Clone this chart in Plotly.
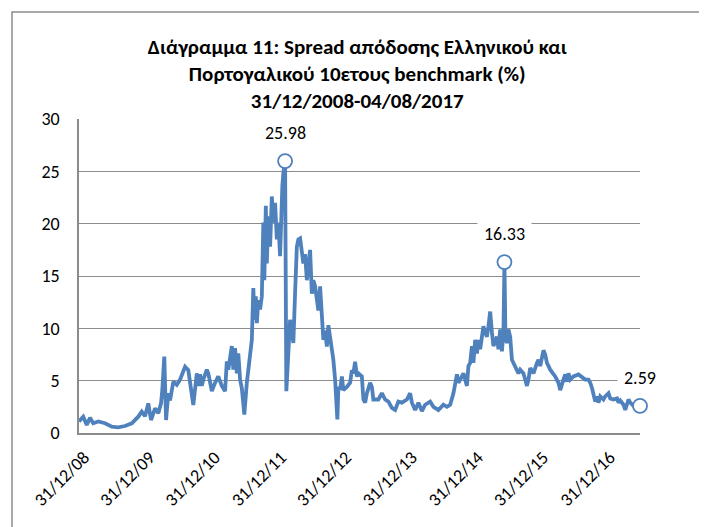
import plotly.graph_objects as go

# Observation number (trading-day index on the category axis) and spread (%)
obs = [0, 17, 31, 44, 57, 77, 104, 131, 157, 184, 211, 237, 251, 264, 277, 288, 304, 317, 328, 333,
       341, 348, 357, 364, 377, 391, 404, 424, 437, 451, 457,
       471, 477, 484, 491, 497, 511, 517, 531, 544, 557, 571, 584, 591, 597, 611, 617, 624, 631, 637, 644,
       651, 661, 671, 677, 684, 691, 697, 701, 707, 711, 717, 724, 731, 735, 737, 741, 747, 751, 757, 764,
       771, 777, 784, 791, 797, 804, 808, 813, 817, 821, 824, 829, 837, 844, 851, 857, 864, 871, 877, 884,
       897, 904, 911, 924, 931, 937, 944, 957, 964, 977, 984, 991, 997, 1004, 1011, 1017, 1024, 1031, 1033, 1037,
       1044, 1051, 1057, 1071, 1084, 1091, 1097, 1104, 1111, 1117, 1131, 1137, 1144, 1151, 1164, 1171, 1177, 1197,
       1211, 1224, 1237, 1251, 1264, 1277, 1291,
       1311, 1324, 1331, 1344, 1357, 1371, 1384, 1404, 1417, 1437, 1457, 1471, 1484, 1497, 1511, 1517, 1524, 1537,
       1551, 1557, 1564, 1571, 1577, 1584, 1591, 1597, 1604, 1617, 1624, 1631, 1637, 1644, 1651, 1657, 1671, 1677,
       1684, 1691, 1697, 1701, 1705, 1711, 1717, 1724, 1731, 1744, 1757,
       1764, 1777, 1791, 1797, 1804, 1817, 1831, 1837, 1844, 1851, 1857, 1864, 1871, 1884, 1897, 1904, 1917, 1924,
       1937, 1944, 1951, 1957, 1964, 1977, 1997, 2011, 2024, 2037, 2044, 2051, 2057, 2064, 2071, 2077, 2084, 2097,
       2104, 2117, 2124, 2137, 2151, 2157, 2164, 2177, 2184, 2191, 2197, 2204, 2217, 2243]

spread = [1.1, 1.56, 0.76, 1.45, 0.93, 1.1, 0.93, 0.6, 0.54, 0.67, 0.93, 1.56, 2.04, 1.6, 2.83, 1.24, 2.36, 1.9, 2.83, 4.1,
          7.3, 1.24, 3.8, 3.1, 4.9, 4.6, 5.1, 6.33, 6.0, 3.47, 2.67,
          5.7, 4.5, 5.6, 4.5, 5.1, 6.05, 5.7, 4.0, 4.8, 5.4, 4.5, 4.0, 6.85, 6.05, 8.3, 6.05, 8.1, 5.7, 7.6, 5.1,
          4.3, 1.75, 4.8, 6.05, 7.6, 8.9, 13.85, 10.8, 13.05, 10.5, 12.7, 11.8, 13.05, 18.5, 20.1, 14.6, 21.7, 16.2, 20.7, 17.8,
          22.6, 20.1, 22.0, 18.5, 20.1, 16.9, 21.7, 23.6, 24.8, 25.5, 25.98, 4.0, 8.3, 10.8, 9.9, 8.6, 13.4, 17.8, 18.5, 18.6,
          16.2, 17.1, 14.6, 17.5, 13.3, 14.6, 14.0, 11.7, 14.0, 8.9, 9.8, 8.25, 10.3, 9.2, 7.6, 7.0, 5.1, 2.5, 1.3, 4.4,
          4.1, 5.4, 4.1, 4.4, 4.8, 6.0, 5.7, 6.8, 5.4, 5.7, 5.4, 3.2, 2.9, 3.8, 4.8, 4.4, 3.2, 3.2,
          3.8, 3.2, 3.0, 2.4, 2.2, 3.0, 2.9,
          3.2, 3.8, 2.9, 2.2, 2.9, 2.1, 2.7, 3.0, 2.5, 2.2, 2.7, 2.5, 2.7, 3.8, 5.6, 4.8, 5.1, 5.7,
          4.5, 6.4, 6.7, 8.3, 6.7, 8.9, 7.6, 8.9, 8.0, 10.2, 9.6, 9.2, 10.2, 11.6, 9.6, 8.3, 9.2, 8.0,
          9.9, 7.8, 9.6, 16.33, 9.2, 8.6, 9.9, 9.2, 7.0, 6.4, 5.7,
          6.05, 5.7, 4.5, 5.1, 6.2, 5.7, 6.7, 7.0, 6.4, 7.3, 7.9, 7.5, 6.7, 6.05, 5.7, 5.4, 4.8, 4.1,
          5.1, 5.6, 4.9, 5.7, 5.1, 5.4, 5.6, 5.3, 5.1, 5.1, 4.8, 4.3, 3.8, 3.0, 3.5, 2.9, 3.5, 3.2,
          3.5, 3.8, 3.3, 3.2, 3.3, 2.9, 3.1, 2.7, 2.2, 2.9, 3.2, 2.9, 2.6, 2.59]

# Year-end label positions on the observation axis and their texts
tick_obs = [20, 282, 543, 808, 1068, 1331, 1595, 1856, 2122]
tick_labels = ["31/12/08", "31/12/09", "31/12/10", "31/12/11", "31/12/12",
               "31/12/13", "31/12/14", "31/12/15", "31/12/16"]

# Highlighted observations (max spike, second spike, last value)
highlight_obs = [824, 1701, 2243]

title_text = ("<b>Διάγραμμα 11: Spread απόδοσης Ελληνικού και<br>"
              "Πορτογαλικού 10ετους benchmark (%)<br>"
              "31/12/2008-04/08/2017</b>")

BLUE = "#4F81BD"
GRID = "#8C8C8C"
FONT = "Carlito, Roboto, 'Noto Sans', sans-serif"

hi_idx = [obs.index(o) for o in highlight_obs]
hi_x = [obs[i] for i in hi_idx]
hi_y = [spread[i] for i in hi_idx]

# plot-area geometry in figure pixels (for the outer frame shape)
L, R, T, B = 71, 632, 111, 425
W, H = R - L, B - T

fig = go.Figure()
fig.add_trace(go.Scatter(x=obs, y=spread, mode="lines",
                         line=dict(color=BLUE, width=3.8), hoverinfo="x+y",
                         showlegend=False))
fig.add_trace(go.Scatter(x=hi_x, y=hi_y, mode="markers",
                         marker=dict(symbol="circle", size=14, color="white",
                                     line=dict(color=BLUE, width=1.8)),
                         showlegend=False, cliponaxis=False))

for x, y in zip(hi_x, hi_y):
    fig.add_annotation(x=x, y=y, text=f"{y:.2f}", showarrow=False, yshift=28,
                       bgcolor="white", borderpad=6,
                       font=dict(family=FONT, size=18, color="#000"))

fig.update_layout(
    width=707, height=527,
    margin=dict(l=L, r=707 - R, t=T, b=527 - B),
    paper_bgcolor="white", plot_bgcolor="white",
    font=dict(family=FONT, size=18, color="#000"),
    title=dict(text=title_text, x=0.494, xanchor="center", y=0.913, yanchor="middle",
               font=dict(family=FONT, size=21, color="#000")),
    xaxis=dict(range=[0, 2243], tickmode="array", tickvals=tick_obs, ticktext=tick_labels,
               tickangle=-45, showgrid=False, zeroline=False, showline=True,
               linecolor=GRID, linewidth=1.5, ticks="", tickfont=dict(size=18),
               ticklabelstandoff=5),
    yaxis=dict(range=[0, 30], dtick=5, showgrid=True, gridcolor=GRID, gridwidth=1.4,
               zeroline=False, showline=True, linecolor=GRID, linewidth=1.5,
               ticks="", tickfont=dict(size=18), ticklabelstandoff=14),
    shapes=[dict(type="rect", xref="paper", yref="paper",
                 x0=(4 - L) / W, x1=(694 - L) / W,
                 y0=(B - 540) / H, y1=(B - 4) / H,
                 line=dict(color=GRID, width=1.5), layer="below")],
)

fig.write_html("out.html")
